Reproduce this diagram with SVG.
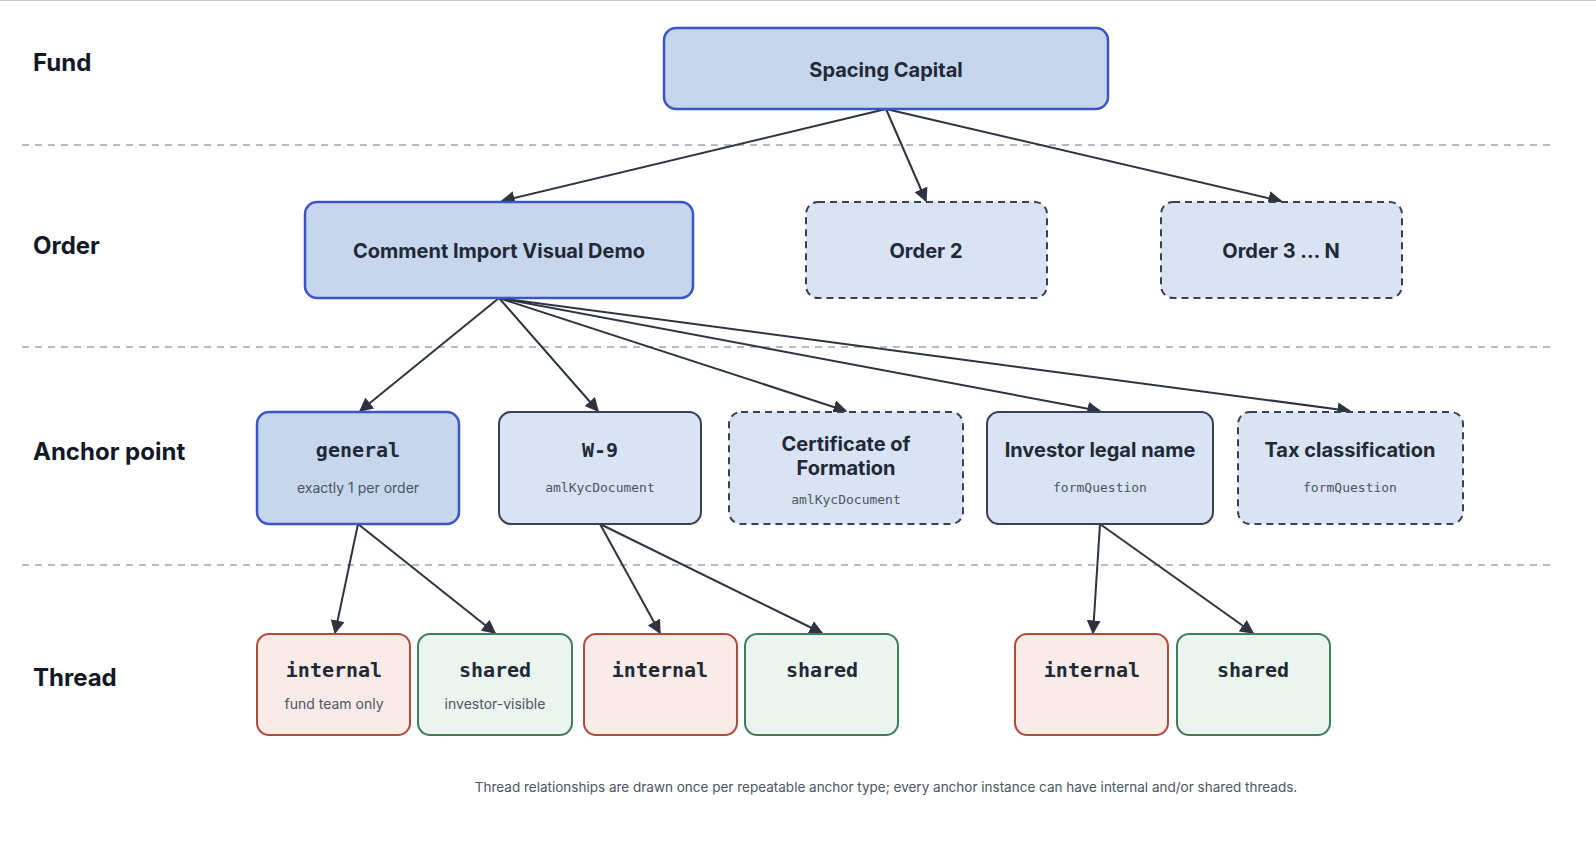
<svg xmlns="http://www.w3.org/2000/svg" width="1596" height="858" viewBox="0 0 1596 858">
<style>
.lane{font-family:Inter,"Liberation Sans",sans-serif;font-weight:700;font-size:24px;fill:#111827}
.sep{stroke:#9ca3af;stroke-width:1.5;stroke-dasharray:7 6}
.t{font-family:Inter,"Liberation Sans",sans-serif;font-weight:700;font-size:20px;fill:#1f2937;text-anchor:middle}
.m{font-family:"DejaVu Sans Mono","Liberation Mono",monospace;font-weight:700;font-size:20px;fill:#1f2937;text-anchor:middle}
.s{font-family:Inter,"Liberation Sans",sans-serif;font-size:14px;fill:#4b5563;text-anchor:middle}
.sm{font-family:"DejaVu Sans Mono","Liberation Mono",monospace;font-size:13px;fill:#4b5563;text-anchor:middle}
.pri{fill:#c6d6ec;stroke:#3b55c6;stroke-width:2.5}
.sec{fill:#d9e3f3;stroke:#374151;stroke-width:2}
.dash{fill:#d9e3f3;stroke:#374151;stroke-width:2;stroke-dasharray:7 5}
.int{fill:#f9ece8;stroke:#b34a3a;stroke-width:2}
.sh{fill:#ebf4ee;stroke:#3f7d5e;stroke-width:2}
.c{stroke:#2d3340;stroke-width:2;fill:none;marker-end:url(#a)}
</style>
<defs><marker id="a" viewBox="0 0 10 10" refX="9" refY="5" markerWidth="7" markerHeight="7" orient="auto"><path d="M0,0L10,5L0,10z" fill="#2d3340"/></marker></defs>
<rect width="1596" height="858" fill="#fff"/>
<line x1="0" y1="0.5" x2="1596" y2="0.5" stroke="#c8c8c8"/>
<g id="lanes">
<text class="lane" x="33" y="71">Fund</text>
<text class="lane" x="33" y="254">Order</text>
<text class="lane" x="33" y="460">Anchor point</text>
<text class="lane" x="33" y="686">Thread</text>
<line class="sep" x1="22" y1="145" x2="1550" y2="145"/>
<line class="sep" x1="22" y1="347" x2="1550" y2="347"/>
<line class="sep" x1="22" y1="565" x2="1550" y2="565"/>
</g>
<g id="connectors">
<line class="c" x1="886" y1="109" x2="502" y2="201"/>
<line class="c" x1="886" y1="109" x2="926" y2="201"/>
<line class="c" x1="886" y1="109" x2="1281" y2="201"/>
<line class="c" x1="499" y1="298" x2="360" y2="411"/>
<line class="c" x1="499" y1="298" x2="598" y2="411"/>
<line class="c" x1="499" y1="298" x2="846" y2="411"/>
<line class="c" x1="499" y1="298" x2="1100" y2="411"/>
<line class="c" x1="499" y1="298" x2="1350" y2="411"/>
<line class="c" x1="358" y1="524" x2="335" y2="633"/>
<line class="c" x1="358" y1="524" x2="495" y2="633"/>
<line class="c" x1="600" y1="524" x2="660" y2="633"/>
<line class="c" x1="600" y1="524" x2="822" y2="633"/>
<line class="c" x1="1100" y1="524" x2="1093" y2="633"/>
<line class="c" x1="1100" y1="524" x2="1253" y2="633"/>
</g>
<g id="fund"><rect class="pri" x="664" y="28" width="444" height="81" rx="12"/><text class="t" x="886" y="77">Spacing Capital</text></g>
<g id="order1"><rect class="pri" x="305" y="202" width="388" height="96" rx="12"/><text class="t" x="499" y="258">Comment Import Visual Demo</text></g>
<g id="order2"><rect class="dash" x="806" y="202" width="241" height="96" rx="12"/><text class="t" x="926" y="258">Order 2</text></g>
<g id="order3"><rect class="dash" x="1161" y="202" width="241" height="96" rx="12"/><text class="t" x="1281" y="258">Order 3 … N</text></g>
<g id="general"><rect class="pri" x="257" y="412" width="202" height="112" rx="12"/><text class="m" x="358" y="457">general</text><text class="s" x="358" y="493">exactly 1 per order</text></g>
<g id="w9"><rect class="sec" x="499" y="412" width="202" height="112" rx="12"/><text class="m" x="600" y="457">W-9</text><text class="sm" x="600" y="492">amlKycDocument</text></g>
<g id="cert"><rect class="dash" x="729" y="412" width="234" height="112" rx="12"/><text class="t" x="846" y="451">Certificate of</text><text class="t" x="846" y="475">Formation</text><text class="sm" x="846" y="504">amlKycDocument</text></g>
<g id="legal"><rect class="sec" x="987" y="412" width="226" height="112" rx="12"/><text class="t" x="1100" y="457">Investor legal name</text><text class="sm" x="1100" y="492">formQuestion</text></g>
<g id="tax"><rect class="dash" x="1238" y="412" width="225" height="112" rx="12"/><text class="t" x="1350" y="457">Tax classification</text><text class="sm" x="1350" y="492">formQuestion</text></g>
<g id="t1"><rect class="int" x="257" y="634" width="153" height="101" rx="12"/><text class="m" x="334" y="677">internal</text><text class="s" x="334" y="709">fund team only</text></g>
<g id="t2"><rect class="sh" x="418" y="634" width="154" height="101" rx="12"/><text class="m" x="495" y="677">shared</text><text class="s" x="495" y="709">investor-visible</text></g>
<g id="t3"><rect class="int" x="584" y="634" width="153" height="101" rx="12"/><text class="m" x="660" y="677">internal</text></g>
<g id="t4"><rect class="sh" x="745" y="634" width="153" height="101" rx="12"/><text class="m" x="822" y="677">shared</text></g>
<g id="t5"><rect class="int" x="1015" y="634" width="153" height="101" rx="12"/><text class="m" x="1092" y="677">internal</text></g>
<g id="t6"><rect class="sh" x="1177" y="634" width="153" height="101" rx="12"/><text class="m" x="1253" y="677">shared</text></g>
<text class="s" x="886" y="792" style="font-size:13.5px">Thread relationships are drawn once per repeatable anchor type; every anchor instance can have internal and/or shared threads.</text>
</svg>
